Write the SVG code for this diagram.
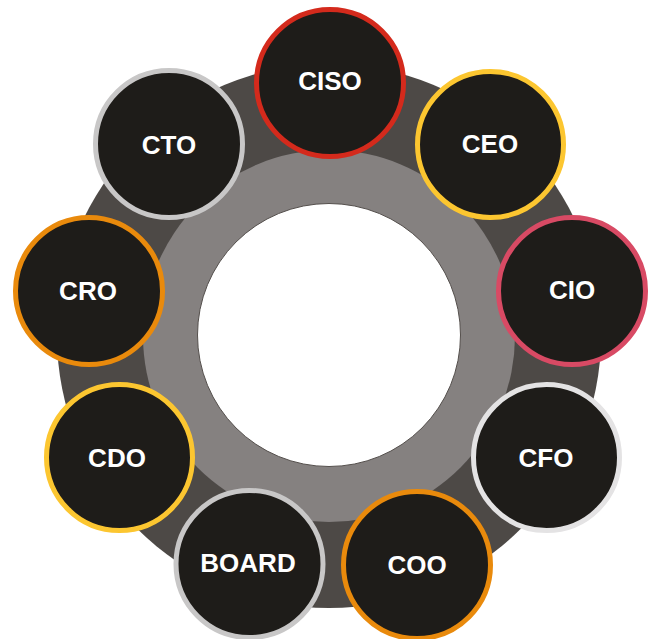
<svg xmlns="http://www.w3.org/2000/svg" width="653" height="639" viewBox="0 0 653 639">
<style>
.node{fill:#1e1c19;stroke-width:5}
.lbl{font-family:"Liberation Sans",Arial,sans-serif;font-weight:bold;font-size:26px;fill:#ffffff;text-anchor:middle}
</style>
<rect width="653" height="639" fill="#ffffff"/>
<g id="rings">
<circle cx="329" cy="336" r="272" fill="#4d4946"/>
<circle cx="329" cy="336" r="186" fill="#858180"/>
<circle cx="329" cy="335" r="131.5" fill="#ffffff" stroke="#55504d" stroke-width="1"/>
</g>
<g id="connectors"></g>
<g id="CISO"><circle class="node" cx="330" cy="83" r="73.5" stroke="#d42a1c"/><text class="lbl" x="330" y="90">CISO</text></g>
<g id="CEO"><circle class="node" cx="490.5" cy="144.5" r="73" stroke="#fcc630"/><text class="lbl" x="490" y="153">CEO</text></g>
<g id="CIO"><circle class="node" cx="572" cy="291" r="73.5" stroke="#d84a64"/><text class="lbl" x="572" y="299">CIO</text></g>
<g id="CFO"><circle class="node" cx="546.5" cy="457.5" r="73" stroke="#e4e3e4"/><text class="lbl" x="546" y="467">CFO</text></g>
<g id="COO"><circle class="node" cx="417" cy="565" r="73.5" stroke="#e98a0c"/><text class="lbl" x="417" y="574">COO</text></g>
<g id="BOARD"><circle class="node" cx="249.5" cy="564" r="73.5" stroke="#c8c7c7"/><text class="lbl" x="248" y="572">BOARD</text></g>
<g id="CDO"><circle class="node" cx="119.5" cy="457.5" r="73" stroke="#fcc630"/><text class="lbl" x="117" y="467">CDO</text></g>
<g id="CRO"><circle class="node" cx="89" cy="291" r="73.5" stroke="#e98a0c"/><text class="lbl" x="88" y="300">CRO</text></g>
<g id="CTO"><circle class="node" cx="169" cy="144" r="73.5" stroke="#c8c7c7"/><text class="lbl" x="169" y="154">CTO</text></g>
</svg>
